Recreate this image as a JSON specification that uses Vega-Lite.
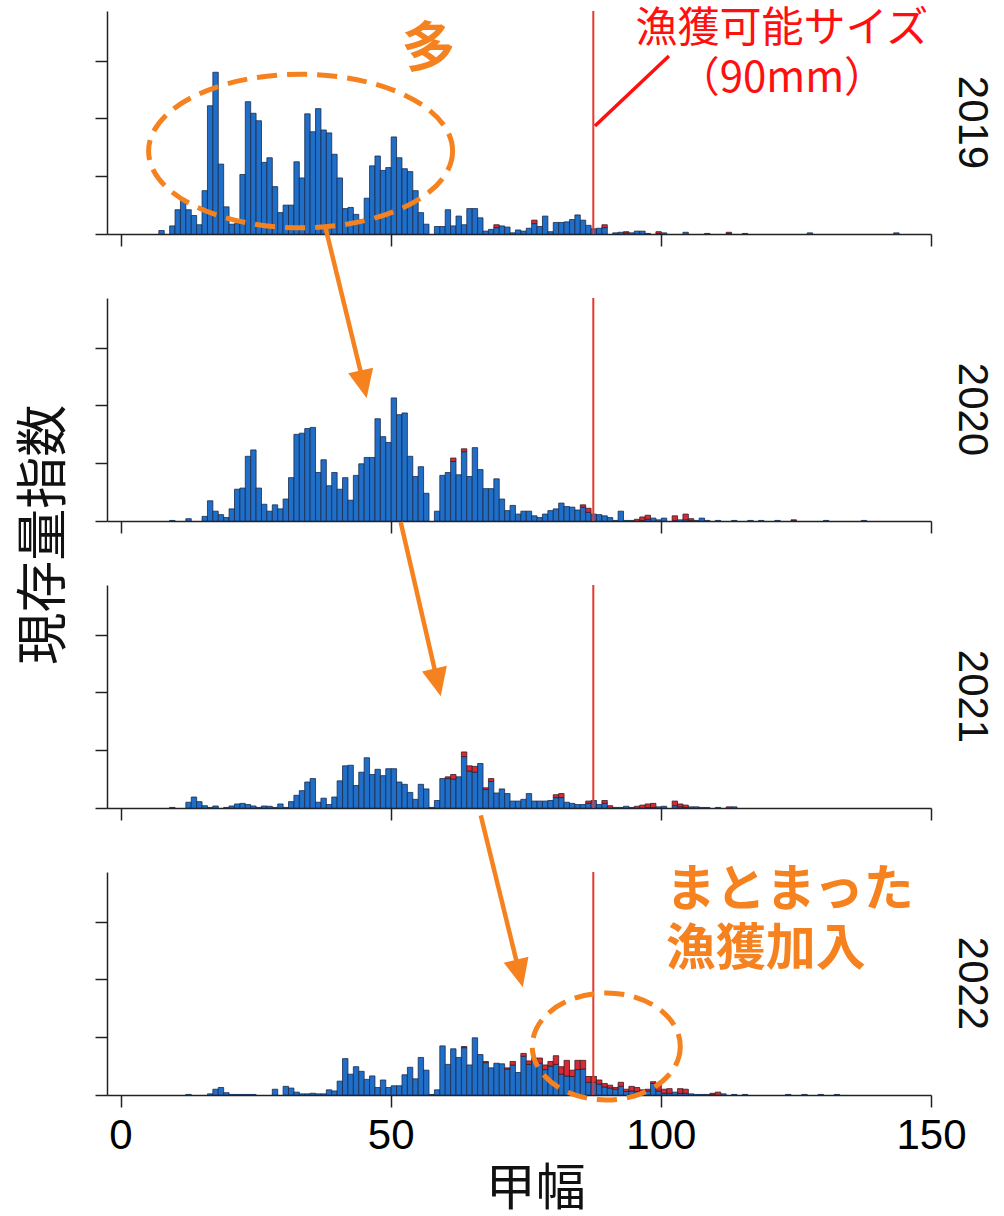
{
  "$schema": "https://vega.github.io/schema/vega-lite/v6.json",
  "background": "white",
  "padding": {"left": 19, "top": 7, "right": 0, "bottom": 0},
  "bounds": "flush",
  "spacing": 64,
  "config": {
    "view": {"stroke": null},
    "axis": {"domainColor": "#222", "domainWidth": 1.5, "tickColor": "#222", "tickWidth": 1.5, "tickSize": 12, "grid": false, "labels": false}
  },
  "datasets": {
    "d2019": [
      {"mm":7,"b":0.06},{"mm":9,"b":0.14},{"mm":10,"b":0.42},{"mm":11,"b":0.60},{"mm":12,"b":0.42},{"mm":13,"b":0.32},{"mm":14,"b":0.16},{"mm":15,"b":0.75},{"mm":16,"b":2.22},{"mm":17,"b":2.80},{"mm":18,"b":1.21},{"mm":19,"b":0.47},{"mm":20,"b":0.17},{"mm":21,"b":0.18},{"mm":22,"b":1.03},{"mm":23,"b":2.29},{"mm":24,"b":2.09},{"mm":25,"b":1.96},{"mm":26,"b":1.24},{"mm":27,"b":1.32},{"mm":28,"b":0.82},{"mm":29,"b":0.37},{"mm":30,"b":0.50},{"mm":31,"b":0.50},{"mm":32,"b":1.25},{"mm":33,"b":0.97},{"mm":34,"b":2.08},{"mm":35,"b":1.77},{"mm":36,"b":2.17},{"mm":37,"b":1.80},{"mm":38,"b":1.75},{"mm":39,"b":1.38},{"mm":40,"b":0.97},{"mm":41,"b":0.44},{"mm":42,"b":0.46},{"mm":43,"b":0.34},{"mm":44,"b":0.25},{"mm":45,"b":0.62},{"mm":46,"b":1.18},{"mm":47,"b":1.35},{"mm":48,"b":1.10},{"mm":49,"b":1.15},{"mm":50,"b":1.68},{"mm":51,"b":1.32},{"mm":52,"b":1.13},{"mm":53,"b":1.08},{"mm":54,"b":0.75},{"mm":55,"b":0.37},{"mm":56,"b":0.17},{"mm":58,"b":0.13},{"mm":59,"b":0.13},{"mm":60,"b":0.42},{"mm":61,"b":0.14},{"mm":62,"b":0.31},{"mm":63,"b":0.16},{"mm":64,"b":0.44},{"mm":65,"b":0.44},{"mm":66,"b":0.28},{"mm":67,"b":0.05},{"mm":68,"b":0.08},{"mm":69,"b":0.11,"t":0.16},{"mm":70,"b":0.14},{"mm":71,"b":0.12},{"mm":72,"b":0.02},{"mm":73,"b":0.07},{"mm":74,"b":0.05},{"mm":75,"b":0.10},{"mm":76,"b":0.18,"t":0.24},{"mm":77,"b":0.13},{"mm":78,"b":0.31},{"mm":79,"b":0.04},{"mm":80,"b":0.20},{"mm":81,"b":0.20},{"mm":82,"b":0.21},{"mm":83,"b":0.25},{"mm":84,"b":0.33},{"mm":85,"b":0.24},{"mm":86,"b":0.15},{"mm":87,"b":0.09},{"mm":88,"b":0.10},{"mm":89,"b":0.11,"t":0.16},{"mm":91,"b":0.02},{"mm":92,"b":0.03},{"mm":93,"b":0.02,"t":0.04},{"mm":94,"b":0.02},{"mm":95,"b":0.05},{"mm":96,"b":0.05},{"mm":97,"b":0.01},{"mm":99,"b":0.01,"t":0.04},{"mm":100,"b":0.02},{"mm":104,"b":0.03},{"mm":108,"b":0.01},{"mm":112,"b":0.01,"t":0.03},{"mm":115,"b":0.01},{"mm":127,"b":0.02},{"mm":143,"b":0.02}
    ],
    "d2020": [
      {"mm":9,"b":0.01},{"mm":12,"b":0.04},{"mm":15,"b":0.08},{"mm":16,"b":0.35},{"mm":17,"b":0.17},{"mm":18,"b":0.11},{"mm":19,"b":0.06},{"mm":20,"b":0.21},{"mm":21,"b":0.55},{"mm":22,"b":0.57},{"mm":23,"b":1.12},{"mm":24,"b":1.23},{"mm":25,"b":0.57},{"mm":26,"b":0.29},{"mm":27,"b":0.17},{"mm":28,"b":0.28},{"mm":29,"b":0.21},{"mm":30,"b":0.38},{"mm":31,"b":0.75},{"mm":32,"b":1.50},{"mm":33,"b":1.52},{"mm":34,"b":1.60},{"mm":35,"b":1.62},{"mm":36,"b":0.84},{"mm":37,"b":1.06},{"mm":38,"b":0.61},{"mm":39,"b":0.84},{"mm":40,"b":0.55},{"mm":41,"b":0.75},{"mm":42,"b":0.36},{"mm":43,"b":0.79},{"mm":44,"b":0.99},{"mm":45,"b":1.10},{"mm":46,"b":1.10},{"mm":47,"b":1.77},{"mm":48,"b":1.46},{"mm":49,"b":1.36},{"mm":50,"b":2.13},{"mm":51,"b":1.84},{"mm":52,"b":1.87},{"mm":53,"b":1.12},{"mm":54,"b":0.77},{"mm":55,"b":0.94},{"mm":56,"b":0.48},{"mm":58,"b":0.17},{"mm":59,"b":0.79},{"mm":60,"b":0.84},{"mm":61,"b":1.03,"t":1.09},{"mm":62,"b":0.80},{"mm":63,"b":1.20,"t":1.25},{"mm":64,"b":0.77},{"mm":65,"b":1.27},{"mm":66,"b":0.89},{"mm":67,"b":0.56},{"mm":68,"b":0.56},{"mm":69,"b":0.73},{"mm":70,"b":0.38},{"mm":71,"b":0.18},{"mm":72,"b":0.27},{"mm":73,"b":0.12},{"mm":74,"b":0.17},{"mm":75,"b":0.17},{"mm":76,"b":0.09},{"mm":77,"b":0.06},{"mm":78,"b":0.12},{"mm":79,"b":0.18},{"mm":80,"b":0.21},{"mm":81,"b":0.31},{"mm":82,"b":0.25},{"mm":83,"b":0.24},{"mm":84,"b":0.19},{"mm":85,"b":0.24,"t":0.28},{"mm":86,"b":0.15,"t":0.22},{"mm":87,"b":0.12},{"mm":88,"b":0.11},{"mm":89,"b":0.09},{"mm":90,"b":0.06},{"mm":91,"b":0.01},{"mm":92,"b":0.17},{"mm":93,"b":0.01},{"mm":94,"b":0.01},{"mm":95,"b":0,"t":0.03},{"mm":96,"b":0.01,"t":0.07},{"mm":97,"b":0.03,"t":0.10},{"mm":98,"b":0.05},{"mm":99,"b":0.02},{"mm":100,"b":0.05},{"mm":102,"b":0.01,"t":0.09},{"mm":103,"b":0.02},{"mm":104,"b":0.02,"t":0.12},{"mm":105,"b":0.01,"t":0.04},{"mm":106,"b":0.01},{"mm":107,"b":0.05},{"mm":108,"b":0.01},{"mm":110,"b":0.01},{"mm":113,"b":0.01},{"mm":116,"b":0.01},{"mm":118,"b":0.01},{"mm":121,"b":0.01},{"mm":124,"b":0.01,"t":0.02},{"mm":130,"b":0.01},{"mm":137,"b":0.01}
    ],
    "d2021": [
      {"mm":9,"b":0.01},{"mm":12,"b":0.10},{"mm":13,"b":0.19},{"mm":14,"b":0.11},{"mm":15,"b":0.04},{"mm":16,"b":0.01},{"mm":17,"b":0.035},{"mm":19,"b":0.01},{"mm":20,"b":0.035},{"mm":21,"b":0.07},{"mm":22,"b":0.08},{"mm":23,"b":0.06},{"mm":24,"b":0.035},{"mm":25,"b":0.01},{"mm":26,"b":0.035},{"mm":27,"b":0.03},{"mm":28,"b":0.01},{"mm":29,"b":0.07},{"mm":30,"b":0.01},{"mm":31,"b":0.11},{"mm":32,"b":0.22},{"mm":33,"b":0.30},{"mm":34,"b":0.45},{"mm":35,"b":0.51},{"mm":36,"b":0.10},{"mm":37,"b":0.17},{"mm":38,"b":0.06},{"mm":39,"b":0.19},{"mm":40,"b":0.47},{"mm":41,"b":0.73},{"mm":42,"b":0.74},{"mm":43,"b":0.39},{"mm":44,"b":0.62},{"mm":45,"b":0.87},{"mm":46,"b":0.58},{"mm":47,"b":0.67},{"mm":48,"b":0.56},{"mm":49,"b":0.68},{"mm":50,"b":0.68},{"mm":51,"b":0.45},{"mm":52,"b":0.41},{"mm":53,"b":0.27},{"mm":54,"b":0.15},{"mm":55,"b":0.41},{"mm":56,"b":0.33},{"mm":57,"b":0.01},{"mm":58,"b":0.13},{"mm":59,"b":0.51},{"mm":60,"b":0.51,"t":0.54},{"mm":61,"b":0.50,"t":0.58},{"mm":62,"b":0.54},{"mm":63,"b":0.89,"t":0.97},{"mm":64,"b":0.64,"t":0.73},{"mm":65,"b":0.62,"t":0.72},{"mm":66,"b":0.77},{"mm":67,"b":0.32,"t":0.35},{"mm":68,"b":0.46,"t":0.51},{"mm":69,"b":0.26},{"mm":70,"b":0.33},{"mm":71,"b":0.25},{"mm":72,"b":0.12},{"mm":73,"b":0.12},{"mm":74,"b":0.15},{"mm":75,"b":0.25},{"mm":76,"b":0.12},{"mm":77,"b":0.12},{"mm":78,"b":0.12},{"mm":79,"b":0.13},{"mm":80,"b":0.18,"t":0.23},{"mm":81,"b":0.18,"t":0.25},{"mm":82,"b":0.10},{"mm":83,"b":0.08},{"mm":84,"b":0.06},{"mm":85,"b":0.06},{"mm":86,"b":0.08,"t":0.12},{"mm":87,"b":0.13},{"mm":88,"b":0.06},{"mm":89,"b":0.08,"t":0.13},{"mm":90,"b":0,"t":0.04},{"mm":91,"b":0.01},{"mm":92,"b":0.01},{"mm":93,"b":0.03},{"mm":94,"b":0.01},{"mm":95,"b":0,"t":0.03},{"mm":96,"b":0,"t":0.05},{"mm":97,"b":0.01,"t":0.07},{"mm":98,"b":0.01,"t":0.08},{"mm":99,"b":0.02},{"mm":100,"b":0.03},{"mm":102,"b":0.04,"t":0.12},{"mm":103,"b":0.02,"t":0.07},{"mm":104,"b":0.01,"t":0.05},{"mm":105,"b":0.02},{"mm":106,"b":0.02},{"mm":107,"b":0.01},{"mm":108,"b":0.01},{"mm":110,"b":0.01},{"mm":112,"b":0,"t":0.02},{"mm":113,"b":0.02}
    ],
    "d2022": [
      {"mm":12,"b":0.01},{"mm":16,"b":0.02},{"mm":17,"b":0.10},{"mm":18,"b":0.13},{"mm":19,"b":0.04},{"mm":20,"b":0.01},{"mm":21,"b":0.01},{"mm":22,"b":0.01},{"mm":23,"b":0.01},{"mm":24,"b":0.01},{"mm":28,"b":0.10},{"mm":30,"b":0.15},{"mm":31,"b":0.12},{"mm":32,"b":0.05},{"mm":33,"b":0.02},{"mm":34,"b":0.02},{"mm":35,"b":0.03},{"mm":36,"b":0.02},{"mm":37,"b":0.02},{"mm":38,"b":0.09},{"mm":39,"b":0.07},{"mm":40,"b":0.24},{"mm":41,"b":0.63},{"mm":42,"b":0.36},{"mm":43,"b":0.49},{"mm":44,"b":0.41},{"mm":45,"b":0.27},{"mm":46,"b":0.33},{"mm":47,"b":0.13},{"mm":48,"b":0.26},{"mm":49,"b":0.13},{"mm":50,"b":0.16},{"mm":51,"b":0.16},{"mm":52,"b":0.35},{"mm":53,"b":0.48},{"mm":54,"b":0.28},{"mm":55,"b":0.65},{"mm":56,"b":0.43},{"mm":57,"b":0.01},{"mm":58,"b":0.09},{"mm":59,"b":0.85},{"mm":60,"b":0.53},{"mm":61,"b":0.80},{"mm":62,"b":0.65},{"mm":63,"b":0.82,"t":0.84},{"mm":64,"b":0.52},{"mm":65,"b":0.99},{"mm":66,"b":0.70},{"mm":67,"b":0.56,"t":0.58},{"mm":68,"b":0.47},{"mm":69,"b":0.55},{"mm":70,"b":0.54},{"mm":71,"b":0.45,"t":0.47},{"mm":72,"b":0.52,"t":0.58},{"mm":73,"b":0.39},{"mm":74,"b":0.67,"t":0.72},{"mm":75,"b":0.53,"t":0.59},{"mm":76,"b":0.58,"t":0.64},{"mm":77,"b":0.55,"t":0.64},{"mm":78,"b":0.44,"t":0.52},{"mm":79,"b":0.50,"t":0.58},{"mm":80,"b":0.53,"t":0.68},{"mm":81,"b":0.36,"t":0.49},{"mm":82,"b":0.33,"t":0.60},{"mm":83,"b":0.32,"t":0.43},{"mm":84,"b":0.44,"t":0.60},{"mm":85,"b":0.45,"t":0.60},{"mm":86,"b":0.22,"t":0.32},{"mm":87,"b":0.22,"t":0.32},{"mm":88,"b":0.19,"t":0.26},{"mm":89,"b":0.14,"t":0.20},{"mm":90,"b":0.12,"t":0.17},{"mm":91,"b":0.10,"t":0.13},{"mm":92,"b":0.15,"t":0.22},{"mm":93,"b":0.06,"t":0.10},{"mm":94,"b":0.07,"t":0.15},{"mm":95,"b":0.06,"t":0.13},{"mm":96,"b":0.04,"t":0.09},{"mm":97,"b":0.07,"t":0.10},{"mm":98,"b":0.20,"t":0.23},{"mm":99,"b":0.07,"t":0.17},{"mm":100,"b":0.03,"t":0.10},{"mm":101,"b":0.03,"t":0.11},{"mm":102,"b":0.05},{"mm":103,"b":0.03,"t":0.11},{"mm":104,"b":0.03,"t":0.10},{"mm":105,"b":0.02},{"mm":106,"b":0.01},{"mm":107,"b":0.01},{"mm":108,"b":0.01},{"mm":109,"b":0.01,"t":0.03},{"mm":110,"b":0,"t":0.05},{"mm":111,"b":0.02},{"mm":113,"b":0.01},{"mm":115,"b":0.01},{"mm":123,"b":0.01},{"mm":126,"b":0.01},{"mm":129,"b":0.01},{"mm":132,"b":0.01}
    ]
  },
  "vconcat": [
    {
      "width": 824, "height": 223,
      "layer": [
        {"data": {"name": "d2019"}, "mark": {"type": "bar", "binSpacing": 0, "fill": "#1f6fc9", "stroke": "#1b2b4d", "strokeWidth": 0.8},
         "encoding": {
           "x": {"field": "mm", "type": "quantitative", "bin": {"binned": true, "step": 1}, "scale": {"domain": [-2.5, 150], "nice": false, "zero": false}, "axis": {"values": [0, 50, 100, 150], "title": null}},
           "y": {"field": "b", "type": "quantitative", "scale": {"domain": [0, 3.86], "nice": false}, "axis": {"values": [0, 1, 2, 3], "title": null}}}},
        {"data": {"name": "d2019"}, "mark": {"type": "bar", "binSpacing": 0, "fill": "#d62b36", "stroke": "#3b1a22", "strokeWidth": 0.8},
         "encoding": {
           "x": {"field": "mm", "type": "quantitative", "bin": {"binned": true, "step": 1}},
           "y": {"field": "t", "type": "quantitative"}, "y2": {"field": "b"}}},
        {"data": {"values": [{}]}, "mark": {"type": "rule", "color": "#e5392e", "strokeWidth": 2},
         "encoding": {"x": {"datum": 87.5}}},
        {"data": {"values": [{}]}, "mark": {"type": "rule", "color": "#ff1010", "strokeWidth": 3.5},
         "encoding": {"x": {"datum": 87.8}, "y": {"datum": 1.87}, "x2": {"datum": 101.5}, "y2": {"datum": 3.08}}},
        {"data": {"values": [{}]}, "mark": {"type": "text", "text": "漁獲可能サイズ", "font": "Noto Sans CJK JP", "fontSize": 42, "color": "#ff1010", "align": "center", "baseline": "middle"},
         "encoding": {"x": {"datum": 122.4}, "y": {"datum": 3.55}}},
        {"data": {"values": [{}]}, "mark": {"type": "text", "text": "（90mm）", "font": "Noto Sans CJK JP", "fontSize": 42, "color": "#ff1010", "align": "center", "baseline": "middle"},
         "encoding": {"x": {"datum": 122.4}, "y": {"datum": 2.68}}},
        {"data": {"values": [{}]}, "mark": {"type": "point", "shape": "M 1 0 C 1 0.279 0.5523 0.505 0 0.505 C -0.5523 0.505 -1 0.279 -1 0 C -1 -0.279 -0.5523 -0.505 0 -0.505 C 0.5523 -0.505 1 -0.279 1 0 Z", "size": 92416, "filled": false, "stroke": "#f5821f", "strokeWidth": 5, "strokeDash": [20, 10], "opacity": 1},
         "encoding": {"x": {"datum": 33.33}, "y": {"datum": 1.436}}},
        {"data": {"values": [{}]}, "mark": {"type": "text", "text": "多", "font": "Noto Sans CJK JP", "fontWeight": "bold", "fontSize": 54, "color": "#f5821f", "align": "center", "baseline": "middle"},
         "encoding": {"x": {"datum": 57.0}, "y": {"datum": 3.17}}},
        {"data": {"values": [{}]}, "mark": {"type": "text", "text": "2019", "font": "Liberation Sans", "fontSize": 42, "color": "#111", "angle": 90, "align": "center", "baseline": "middle"},
         "encoding": {"x": {"datum": 157.6}, "y": {"datum": 1.93}}}
      ]
    },
    {
      "width": 824, "height": 223,
      "layer": [
        {"data": {"name": "d2020"}, "mark": {"type": "bar", "binSpacing": 0, "fill": "#1f6fc9", "stroke": "#1b2b4d", "strokeWidth": 0.8},
         "encoding": {
           "x": {"field": "mm", "type": "quantitative", "bin": {"binned": true, "step": 1}, "scale": {"domain": [-2.5, 150], "nice": false, "zero": false}, "axis": {"values": [0, 50, 100, 150], "title": null}},
           "y": {"field": "b", "type": "quantitative", "scale": {"domain": [0, 3.86], "nice": false}, "axis": {"values": [0, 1, 2, 3], "title": null}}}},
        {"data": {"name": "d2020"}, "mark": {"type": "bar", "binSpacing": 0, "fill": "#d62b36", "stroke": "#3b1a22", "strokeWidth": 0.8},
         "encoding": {
           "x": {"field": "mm", "type": "quantitative", "bin": {"binned": true, "step": 1}},
           "y": {"field": "t", "type": "quantitative"}, "y2": {"field": "b"}}},
        {"data": {"values": [{}]}, "mark": {"type": "rule", "color": "#e5392e", "strokeWidth": 2},
         "encoding": {"x": {"datum": 87.5}}},
        {"data": {"values": [{}]}, "mark": {"type": "rule", "color": "#f5821f", "strokeWidth": 4.5},
         "encoding": {"x": {"datum": 37.96}, "y": {"datum": 5.07}, "x2": {"datum": 45.0}, "y2": {"datum": 2.37}}},
        {"data": {"values": [{}]}, "mark": {"type": "point", "shape": "M 0 1 L -0.9 -1 L 0.9 -1 Z", "size": 800, "filled": true, "fill": "#f5821f", "strokeWidth": 0, "opacity": 1, "angle": -12.3},
         "encoding": {"x": {"datum": 45.0}, "y": {"datum": 2.365}}},
        {"data": {"values": [{}]}, "mark": {"type": "text", "text": "現存量指数", "font": "Noto Sans CJK JP", "fontSize": 52, "color": "#111", "angle": 270, "align": "center", "baseline": "middle"},
         "encoding": {"x": {"datum": -13.9}, "y": {"datum": -0.24}}},
        {"data": {"values": [{}]}, "mark": {"type": "text", "text": "2020", "font": "Liberation Sans", "fontSize": 42, "color": "#111", "angle": 90, "align": "center", "baseline": "middle"},
         "encoding": {"x": {"datum": 157.6}, "y": {"datum": 1.93}}}
      ]
    },
    {
      "width": 824, "height": 223,
      "layer": [
        {"data": {"name": "d2021"}, "mark": {"type": "bar", "binSpacing": 0, "fill": "#1f6fc9", "stroke": "#1b2b4d", "strokeWidth": 0.8},
         "encoding": {
           "x": {"field": "mm", "type": "quantitative", "bin": {"binned": true, "step": 1}, "scale": {"domain": [-2.5, 150], "nice": false, "zero": false}, "axis": {"values": [0, 50, 100, 150], "title": null}},
           "y": {"field": "b", "type": "quantitative", "scale": {"domain": [0, 3.86], "nice": false}, "axis": {"values": [0, 1, 2, 3], "title": null}}}},
        {"data": {"name": "d2021"}, "mark": {"type": "bar", "binSpacing": 0, "fill": "#d62b36", "stroke": "#3b1a22", "strokeWidth": 0.8},
         "encoding": {
           "x": {"field": "mm", "type": "quantitative", "bin": {"binned": true, "step": 1}},
           "y": {"field": "t", "type": "quantitative"}, "y2": {"field": "b"}}},
        {"data": {"values": [{}]}, "mark": {"type": "rule", "color": "#e5392e", "strokeWidth": 2},
         "encoding": {"x": {"datum": 87.5}}},
        {"data": {"values": [{}]}, "mark": {"type": "rule", "color": "#f5821f", "strokeWidth": 4.5},
         "encoding": {"x": {"datum": 51.85}, "y": {"datum": 4.95}, "x2": {"datum": 58.68}, "y2": {"datum": 2.18}}},
        {"data": {"values": [{}]}, "mark": {"type": "point", "shape": "M 0 1 L -0.9 -1 L 0.9 -1 Z", "size": 800, "filled": true, "fill": "#f5821f", "strokeWidth": 0, "opacity": 1, "angle": -12.9},
         "encoding": {"x": {"datum": 58.68}, "y": {"datum": 2.173}}},
        {"data": {"values": [{}]}, "mark": {"type": "text", "text": "2021", "font": "Liberation Sans", "fontSize": 42, "color": "#111", "angle": 90, "align": "center", "baseline": "middle"},
         "encoding": {"x": {"datum": 157.6}, "y": {"datum": 1.93}}}
      ]
    },
    {
      "width": 824, "height": 223,
      "layer": [
        {"data": {"name": "d2022"}, "mark": {"type": "bar", "binSpacing": 0, "fill": "#1f6fc9", "stroke": "#1b2b4d", "strokeWidth": 0.8},
         "encoding": {
           "x": {"field": "mm", "type": "quantitative", "bin": {"binned": true, "step": 1}, "scale": {"domain": [-2.5, 150], "nice": false, "zero": false}, "axis": {"values": [0, 50, 100, 150], "title": null, "labels": true, "labelFont": "Liberation Sans", "labelFontSize": 42, "labelColor": "#000", "labelPadding": 8, "labelFlush": false, "labelOverlap": false}},
           "y": {"field": "b", "type": "quantitative", "scale": {"domain": [0, 3.86], "nice": false}, "axis": {"values": [0, 1, 2, 3], "title": null}}}},
        {"data": {"name": "d2022"}, "mark": {"type": "bar", "binSpacing": 0, "fill": "#d62b36", "stroke": "#3b1a22", "strokeWidth": 0.8},
         "encoding": {
           "x": {"field": "mm", "type": "quantitative", "bin": {"binned": true, "step": 1}},
           "y": {"field": "t", "type": "quantitative"}, "y2": {"field": "b"}}},
        {"data": {"values": [{}]}, "mark": {"type": "rule", "color": "#e5392e", "strokeWidth": 2},
         "encoding": {"x": {"datum": 87.5}}},
        {"data": {"values": [{}]}, "mark": {"type": "rule", "color": "#f5821f", "strokeWidth": 4.5},
         "encoding": {"x": {"datum": 66.67}, "y": {"datum": 4.84}, "x2": {"datum": 73.83}, "y2": {"datum": 2.11}}},
        {"data": {"values": [{}]}, "mark": {"type": "point", "shape": "M 0 1 L -0.9 -1 L 0.9 -1 Z", "size": 800, "filled": true, "fill": "#f5821f", "strokeWidth": 0, "opacity": 1, "angle": -13.7},
         "encoding": {"x": {"datum": 73.83}, "y": {"datum": 2.104}}},
        {"data": {"values": [{}]}, "mark": {"type": "point", "shape": "M 1 0 C 1 0.399 0.5523 0.723 0 0.723 C -0.5523 0.723 -1 0.399 -1 0 C -1 -0.399 -0.5523 -0.723 0 -0.723 C 0.5523 -0.723 1 -0.399 1 0 Z", "size": 21904, "filled": false, "stroke": "#f5821f", "strokeWidth": 5, "strokeDash": [20, 10], "opacity": 1},
         "encoding": {"x": {"datum": 89.9}, "y": {"datum": 0.84}}},
        {"data": {"values": [{}]}, "mark": {"type": "text", "text": "まとまった", "font": "Noto Sans CJK JP", "fontWeight": "bold", "fontSize": 50, "color": "#f5821f", "align": "left", "baseline": "middle"},
         "encoding": {"x": {"datum": 100.9}, "y": {"datum": 3.53}}},
        {"data": {"values": [{}]}, "mark": {"type": "text", "text": "漁獲加入", "font": "Noto Sans CJK JP", "fontWeight": "bold", "fontSize": 50, "color": "#f5821f", "align": "left", "baseline": "middle"},
         "encoding": {"x": {"datum": 100.9}, "y": {"datum": 2.51}}},
        {"data": {"values": [{}]}, "mark": {"type": "text", "text": "甲幅", "font": "Noto Sans CJK JP", "fontSize": 50, "color": "#111", "align": "center", "baseline": "middle"},
         "encoding": {"x": {"datum": 76.85}, "y": {"datum": -1.64}}},
        {"data": {"values": [{}]}, "mark": {"type": "text", "text": "2022", "font": "Liberation Sans", "fontSize": 42, "color": "#111", "angle": 90, "align": "center", "baseline": "middle"},
         "encoding": {"x": {"datum": 157.6}, "y": {"datum": 1.93}}}
      ]
    }
  ]
}
